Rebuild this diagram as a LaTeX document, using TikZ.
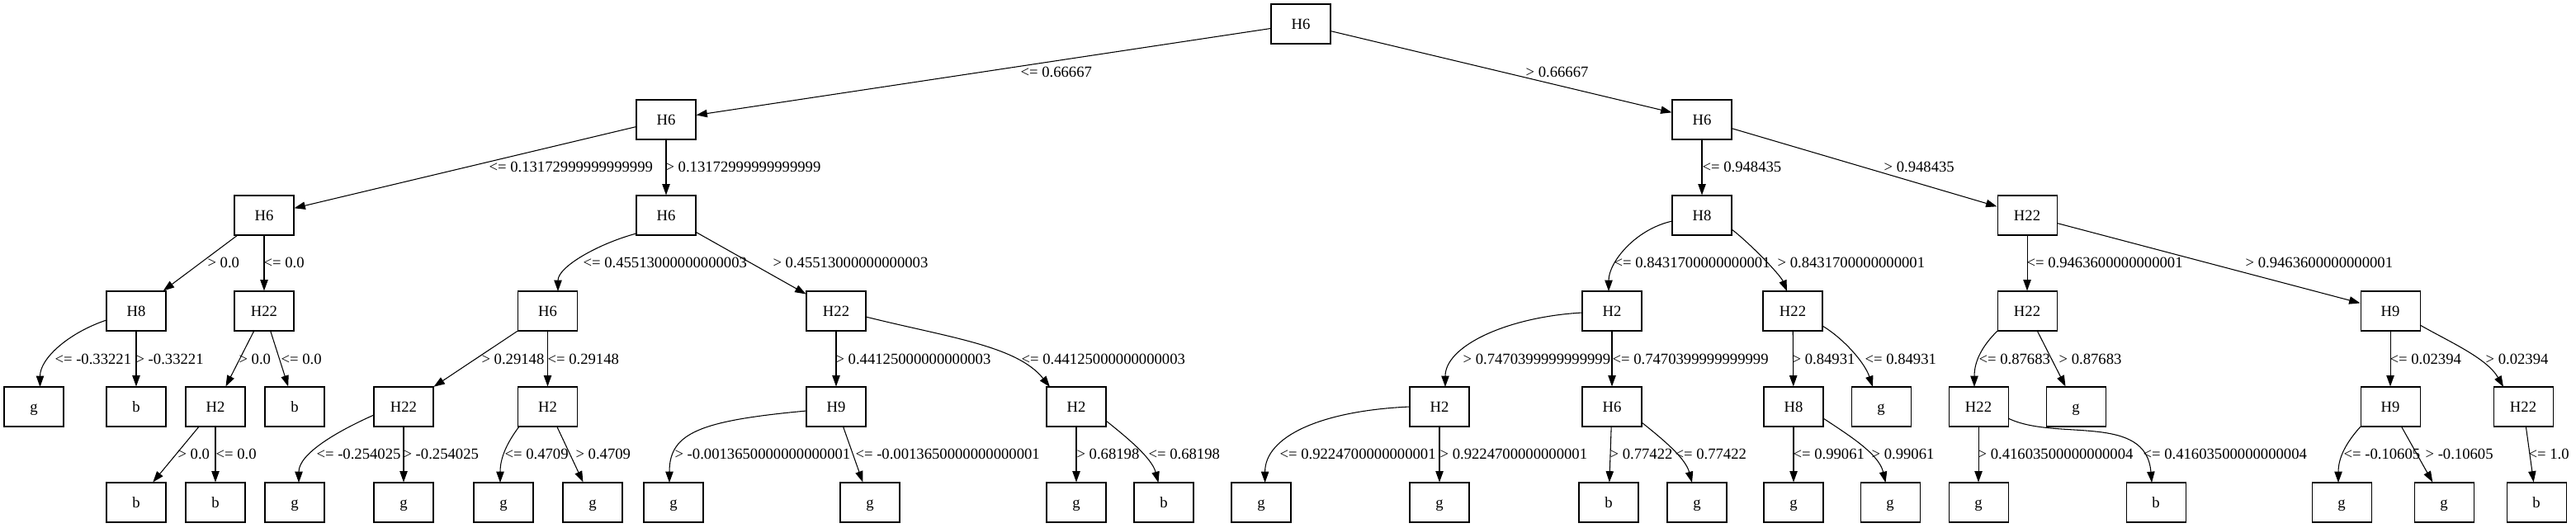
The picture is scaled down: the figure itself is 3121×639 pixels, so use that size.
\documentclass[tikz,border=0pt]{standalone}
\usepackage{fontspec}
\setmainfont{Liberation Serif}
\usetikzlibrary{arrows.meta,calc}
\begin{document}
\begin{tikzpicture}[x=0.75pt,y=-0.75pt,
 box/.style={draw,line width=0.8pt,minimum width=54pt,minimum height=36pt,inner sep=0pt,text height=9.3pt,text depth=0pt,font=\fontsize{14pt}{16pt}\selectfont},
 lbl/.style={anchor=west,inner sep=0pt,text height=9.5pt,text depth=0pt,font=\fontsize{14pt}{16pt}\selectfont},
 arr/.style={draw,line width=0.8pt,-{Triangle[length=10pt,width=7pt]}}]
\useasboundingbox (0,0) rectangle (3121,639);
% row 0-2
\node[box] (r) at (1576,29) {H6};
\node[box] (a) at (807,145) {H6};
\node[box] (m) at (2062,145) {H6};
\node[box] (b) at (320,261) {H6};
\node[box] (f) at (807,261) {H6};
\node[box] (n) at (2062,261) {H8};
\node[box] (t) at (2456,261) {H22};
% row 3
\node[box] (c) at (165,377) {H8};
\node[box] (d) at (320,377) {H22};
\node[box] (g) at (663.5,377) {H6};
\node[box] (j) at (1013,377) {H22};
\node[box] (o) at (1953,377) {H2};
\node[box] (rr) at (2172,377) {H22};
\node[box] (u) at (2456,377) {H22};
\node[box] (w) at (2896,377) {H9};
% row 4
\node[box] (c1) at (41,493) {g};
\node[box] (c2) at (165,493) {b};
\node[box] (nE) at (261,493) {H2};
\node[box] (d2) at (357,493) {b};
\node[box] (h) at (489,493) {H22};
\node[box] (i) at (663.5,493) {H2};
\node[box] (k) at (1013,493) {H9};
\node[box] (l) at (1304,493) {H2};
\node[box] (p) at (1744,493) {H2};
\node[box] (q) at (1953,493) {H6};
\node[box] (s) at (2173,493) {H8};
\node[box] (r2) at (2279,493) {g};
\node[box] (v) at (2397,493) {H22};
\node[box] (u2) at (2515,493) {g};
\node[box] (x) at (2896,493) {H9};
\node[box] (y) at (3057,493) {H22};
% row 5
\node[box] (e1) at (165,609) {b};
\node[box] (e2) at (261,609) {b};
\node[box] (h1) at (357,609) {g};
\node[box] (h2) at (489,609) {g};
\node[box] (i1) at (610,609) {g};
\node[box] (i2) at (718,609) {g};
\node[box] (k1) at (816,609) {g};
\node[box] (k2) at (1054,609) {g};
\node[box] (l1) at (1304,609) {g};
\node[box] (l2) at (1410,609) {b};
\node[box] (p1) at (1528,609) {g};
\node[box] (p2) at (1744,609) {g};
\node[box] (q1) at (1949,609) {b};
\node[box] (q2) at (2056,609) {g};
\node[box] (s1) at (2173,609) {g};
\node[box] (s2) at (2290,609) {g};
\node[box] (v1) at (2397,609) {g};
\node[box] (v2) at (2612,609) {b};
\node[box] (x1) at (2837,609) {g};
\node[box] (x2) at (2961,609) {g};
\node[box] (y1) at (3073,609) {b};
% edges row 0-1
\draw[arr] (r) -- (a) node[lbl] at (1236,87) {<= 0.66667};
\draw[arr] (r) -- (m) node[lbl] at (1848,87) {> 0.66667};
% row 1-2
\draw[arr] (a) -- (b) node[lbl] at (592,202) {<= 0.13172999999999999};
\draw[arr] (a) -- (f) node[lbl] at (806,202) {> 0.13172999999999999};
\draw[arr] (m) -- (n) node[lbl] at (2062,202) {<= 0.948435};
\draw[arr] (m) -- (t) node[lbl] at (2282,202) {> 0.948435};
% row 2-3
\draw[arr] (b) -- (c) node[lbl] at (251,318) {> 0.0};
\draw[arr] (b) -- (d) node[lbl] at (319,318) {<= 0.0};
\draw[arr] ($(f)+(-36,22)$) .. controls +(-45,12) and +(0,-30) .. ($(g)+(12.5,-24)$) node[lbl] at (706,318) {<= 0.45513000000000003};
\draw[arr] (f) -- (j) node[lbl] at (936,318) {> 0.45513000000000003};
\draw[arr] ($(n)+(-36,7)$) .. controls +(-45,10) and +(0,-35) .. ($(o)+(-4,-24)$) node[lbl] at (1955,318) {<= 0.8431700000000001};
\draw[arr] ($(n)+(36,17)$) .. controls +(20,15) and +(-8,-20) .. ($(rr)+(-7,-24)$) node[lbl] at (2153,318) {> 0.8431700000000001};
\draw[arr] (t) -- (u) node[lbl] at (2455,318) {<= 0.9463600000000001};
\draw[arr] (t) -- (w) node[lbl] at (2720,318) {> 0.9463600000000001};
% row 3-4
\draw[arr] ($(c)+(-36,11)$) .. controls +(-45,15) and +(0,-35) .. ($(c1)+(7.5,-24)$) node[lbl] at (66,435) {<= -0.33221};
\draw[arr] (c) -- (c2) node[lbl] at (164,435) {> -0.33221};
\draw[arr] (d) -- (nE) node[lbl] at (289,435) {> 0.0};
\draw[arr] (d) -- (d2) node[lbl] at (340,435) {<= 0.0};
\draw[arr] (g) -- (h) node[lbl] at (583,435) {> 0.29148};
\draw[arr] (g) -- (i) node[lbl] at (663,435) {<= 0.29148};
\draw[arr] (j) -- (k) node[lbl] at (1012,435) {> 0.44125000000000003};
\draw[arr] ($(j)+(36,7)$) .. controls +(100,25) and +(-40,-50) .. ($(l)+(-32,-24)$) node[lbl] at (1237,435) {<= 0.44125000000000003};
\draw[arr] ($(o)+(-36,2)$) .. controls +(-90,5) and +(0,-50) .. ($(p)+(7,-24)$) node[lbl] at (1772,435) {> 0.7470399999999999};
\draw[arr] (o) -- (q) node[lbl] at (1953,435) {<= 0.7470399999999999};
\draw[arr] (rr) -- (s) node[lbl] at (2171,435) {> 0.84931};
\draw[arr] ($(rr)+(36,18)$) .. controls +(25,15) and +(-10,-30) .. ($(r2)+(-10,-24)$) node[lbl] at (2259,435) {<= 0.84931};
\draw[arr] ($(u)+(-36,24)$) .. controls +(-20,20) and +(0,-30) .. ($(v)+(-5,-24)$) node[lbl] at (2397,435) {<= 0.87683};
\draw[arr] (u) -- (u2) node[lbl] at (2494,435) {> 0.87683};
\draw[arr] (w) -- (x) node[lbl] at (2895,435) {<= 0.02394};
\draw[arr] ($(w)+(36,17)$) .. controls +(35,20) and +(-20,-35) .. ($(y)+(-24,-24)$) node[lbl] at (3011,435) {> 0.02394};
% row 4-5
\draw[arr] (nE) -- (e1) node[lbl] at (215,550) {> 0.0};
\draw[arr] (nE) -- (e2) node[lbl] at (261,550) {<= 0.0};
\draw[arr] ($(h)+(-36,10)$) .. controls +(-45,20) and +(0,-35) .. ($(h1)+(5,-24)$) node[lbl] at (383,550) {<= -0.254025};
\draw[arr] (h) -- (h2) node[lbl] at (488,550) {> -0.254025};
\draw[arr] ($(i)+(-34.5,24)$) .. controls +(-15,20) and +(0,-30) .. ($(i1)+(-4,-24)$) node[lbl] at (611,550) {<= 0.4709};
\draw[arr] (i) -- (i2) node[lbl] at (697,550) {> 0.4709};
\draw[arr] ($(k)+(-36,5)$) .. controls +(-130,12) and +(0,-60) .. ($(k1)+(-5,-24)$) node[lbl] at (817,550) {> -0.0013650000000000001};
\draw[arr] (k) -- (k2) node[lbl] at (1036,550) {<= -0.0013650000000000001};
\draw[arr] (l) -- (l1) node[lbl] at (1304,550) {> 0.68198};
\draw[arr] ($(l)+(36,17)$) .. controls +(25,20) and +(-8,-30) .. ($(l2)+(-6.5,-24)$) node[lbl] at (1391,550) {<= 0.68198};
\draw[arr] ($(p)+(-36,0)$) .. controls +(-110,5) and +(0,-55) .. ($(p1)+(4.6,-24)$) node[lbl] at (1550,550) {<= 0.9224700000000001};
\draw[arr] (p) -- (p2) node[lbl] at (1744,550) {> 0.9224700000000001};
\draw[arr] (q) -- (q1) node[lbl] at (1950,550) {> 0.77422};
\draw[arr] ($(q)+(36,19)$) .. controls +(25,20) and +(-8,-30) .. ($(q2)+(-6,-24)$) node[lbl] at (2029,550) {<= 0.77422};
\draw[arr] (s) -- (s1) node[lbl] at (2172,550) {<= 0.99061};
\draw[arr] ($(s)+(36,14)$) .. controls +(30,20) and +(-8,-35) .. ($(s2)+(-5.5,-24)$) node[lbl] at (2267,550) {> 0.99061};
\draw[arr] (v) -- (v1) node[lbl] at (2396,550) {> 0.41603500000000004};
\draw[arr] ($(v)+(36,14)$) .. controls +(57,28) and +(-7,-85) .. ($(v2)+(-5,-24)$) node[lbl] at (2596,550) {<= 0.41603500000000004};
\draw[arr] ($(x)+(-36,24)$) .. controls +(-18,20) and +(0,-30) .. ($(x1)+(-4,-24)$) node[lbl] at (2839,550) {<= -0.10605};
\draw[arr] (x) -- (x2) node[lbl] at (2938,550) {> -0.10605};
\draw[arr] (y) -- (y1) node[lbl] at (3063,550) {<= 1.0};
\end{tikzpicture}
\end{document}
